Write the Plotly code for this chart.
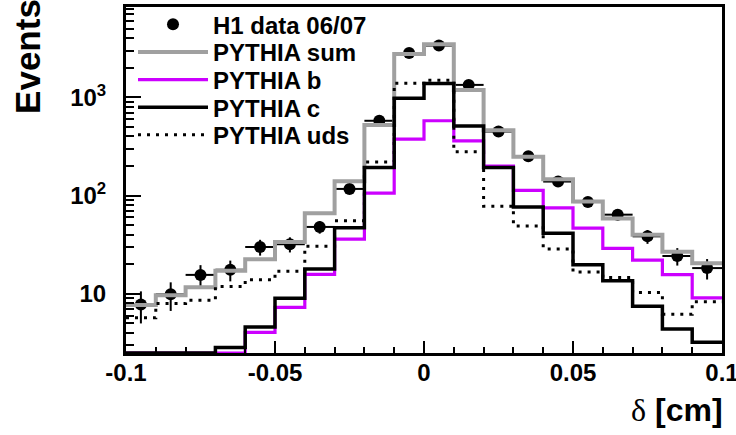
import numpy as np
import plotly.graph_objects as go

# ---- data ----
bin_edges = [-0.10, -0.09, -0.08, -0.07, -0.06, -0.05, -0.04, -0.03, -0.02, -0.01,
             0.00, 0.01, 0.02, 0.03, 0.04, 0.05, 0.06, 0.07, 0.08, 0.09, 0.10]

h1_data = [7.8, 9.9, 15.6, 17.6, 30.0, 32.0, 48.0, 117, 578, 2830,
           3370, 1340, 449, 252, 139, 86, 64, 38.5, 24.3, 18.3]
h1_err = [2.8, 3.2, 4.0, 4.2, 5.5, 5.6, 7.0, 11, 24, 53,
          58, 37, 21, 16, 12, 9.2, 8.0, 6.2, 4.9, 4.3]

pythia_sum = [7.7, 9.7, 11.7, 17.2, 22.5, 33.7, 66, 140, 522, 2770,
              3480, 1190, 463, 248, 147, 87, 58.6, 40, 26.8, 20.5]
pythia_b = [2.5, 2.5, 2.5, 2.5, 4.05, 7.3, 15.8, 36, 106, 376,
            578, 361, 200, 113, 75, 46.6, 29, 22, 15.7, 9.1]
pythia_c = [2.5, 2.5, 2.5, 2.85, 4.6, 9.0, 17.9, 47, 193, 982,
            1387, 511, 193, 76.7, 41.5, 19.8, 13.6, 7.5, 4.38, 3.22]
pythia_uds = [5.7, 8.0, 8.6, 11.9, 13.9, 17.0, 30.5, 55.4, 220, 1396,
              1496, 279, 78, 49.2, 28.7, 16.7, 14.7, 10.3, 6.2, 8.3]

x_tick_vals = [-0.1, -0.05, 0, 0.05, 0.1]
x_tick_text = ["-0.1", "-0.05", "0", "0.05", "0.1"]
y_tick_vals = [10, 100, 1000]
y_tick_text = ["10", "10<sup>2</sup>", "10<sup>3</sup>"]

# ---- derived ----
edges = np.array(bin_edges)
centers = (edges[:-1] + edges[1:]) / 2
half_width = (edges[1] - edges[0]) / 2

def step_y(vals):
    return list(vals) + [vals[-1]]

FONT = "Liberation Sans, Arial, Helvetica, sans-serif"
W, H = 736, 435
ML, MR, MT, MB = 126, 14, 2, 82
PW, PH = W - ML - MR, H - MT - MB

def px_to_paper_x(px):
    return (px - ML) / PW

def px_to_paper_y(py):
    return (H - MB - py) / PH

fig = go.Figure()

legend_rows = [20, 48, 76, 104, 132]
legend_names = ["legend", "legend2", "legend3", "legend4", "legend5"]

fig.add_trace(go.Scatter(
    x=centers, y=h1_data, mode="markers", name="H1 data 06/07", legend=legend_names[0],
    marker=dict(color="black", size=12, symbol="circle"),
    error_y=dict(type="data", array=h1_err, color="black", thickness=2, width=0),
    error_x=dict(type="constant", value=half_width, color="black", thickness=2, width=0),
))

def add_hist(vals, name, color, width, leg, dash="solid"):
    fig.add_trace(go.Scatter(
        x=edges, y=step_y(vals), mode="lines", name=name, legend=leg,
        line=dict(color=color, width=width, shape="hv", dash=dash),
    ))

add_hist(pythia_sum, "PYTHIA sum", "#a0a0a0", 4, legend_names[1])
add_hist(pythia_b, "PYTHIA b", "#cc00ff", 3.2, legend_names[2])
add_hist(pythia_c, "PYTHIA c", "black", 3.5, legend_names[3])
add_hist(pythia_uds, "PYTHIA uds", "black", 3, legend_names[4], dash="3px,6px")

minor_y = [m * 10 ** d for d in range(0, 4) for m in range(2, 10)]
minor_y = [v for v in minor_y if 2.5 <= v <= 8300]

legend_font = dict(family=FONT, size=24, weight="bold", color="black")
legend_layout = {}
for name, row in zip(legend_names, legend_rows):
    legend_layout[name] = dict(
        x=px_to_paper_x(133), y=px_to_paper_y(row), xanchor="left", yanchor="middle",
        bgcolor="rgba(0,0,0,0)", borderwidth=0, font=legend_font,
        itemwidth=70, tracegroupgap=0,
    )

fig.update_layout(
    width=W, height=H,
    margin=dict(l=ML, r=MR, t=MT, b=MB),
    plot_bgcolor="white", paper_bgcolor="white",
    font=dict(family=FONT, color="black"),
    showlegend=True,
    **legend_layout,
    xaxis=dict(
        range=[-0.1, 0.1], tickmode="array", tickvals=x_tick_vals, ticktext=x_tick_text,
        ticks="inside", ticklen=12, tickwidth=2, tickcolor="black",
        minor=dict(tickmode="array", tickvals=bin_edges, ticks="inside", ticklen=6,
                   tickwidth=2, tickcolor="black"),
        showline=True, linewidth=3, linecolor="black", mirror=True,
        showgrid=False, zeroline=False, automargin=False,
        tickfont=dict(family=FONT, size=24, weight="bold"),
        ticklabelstandoff=-4, ticklabeloverflow="allow",
    ),
    yaxis=dict(
        type="log", range=[np.log10(2.5), np.log10(8320)],
        tickmode="array", tickvals=y_tick_vals, ticktext=y_tick_text,
        ticks="inside", ticklen=15, tickwidth=2, tickcolor="black",
        minor=dict(tickmode="array", tickvals=minor_y, ticks="inside", ticklen=8,
                   tickwidth=2, tickcolor="black"),
        showline=True, linewidth=3, linecolor="black", mirror=True,
        showgrid=False, zeroline=False, automargin=False,
        tickfont=dict(family=FONT, size=24, weight="bold"),
        ticklabelstandoff=12, ticklabeloverflow="allow",
    ),
    annotations=[
        dict(text="Events", textangle=-90, xref="paper", yref="paper",
             x=px_to_paper_x(28), y=px_to_paper_y(112), xanchor="center", yanchor="bottom",
             showarrow=False, font=dict(family=FONT, size=35, weight="bold")),
        dict(text="<span style='font-family:Liberation Serif, Times New Roman, serif;font-weight:normal'>δ</span> [cm]",
             xref="paper", yref="paper", x=px_to_paper_x(725), y=px_to_paper_y(411),
             xanchor="right", yanchor="middle", showarrow=False,
             font=dict(family=FONT, size=32, weight="bold")),
    ],
)

fig.write_html("out.html", config={"displayModeBar": False},
               post_script="document.body.style.margin='0';document.body.style.padding='0';")
